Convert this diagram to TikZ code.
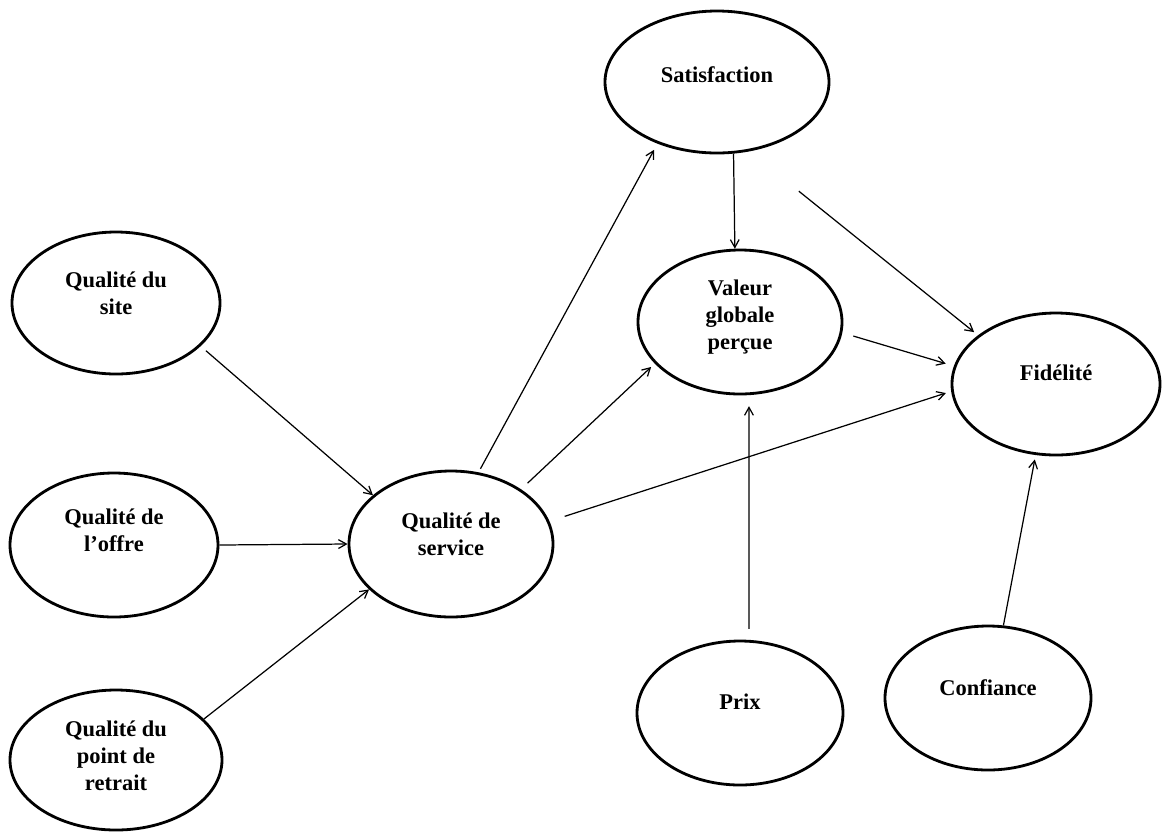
\documentclass[tikz,border=0pt]{standalone}
\usepackage{fontspec}
\setmainfont{Liberation Serif}
\usetikzlibrary{shapes.geometric,arrows.meta}
\begin{document}
\begin{tikzpicture}[x=0.02cm,y=-0.02cm,
  ov/.style 2 args={ellipse,draw,line width=1.6pt,inner sep=0pt,
    minimum width=#1*0.02cm,minimum height=#2*0.02cm},
  txt/.style={align=center,inner sep=0pt,
    font=\fontsize{12.8pt}{15.4pt}\selectfont\bfseries},
  arr/.style={draw,line width=0.7pt,-{Straight Barb[length=4.5pt,width=5pt]}}]
\useasboundingbox[fill=white] (0,0) rectangle (1170,833);
% ellipses
\node[ov={208}{142}] (site)    at (116,303) {};
\node[ov={208}{144}] (offre)   at (114,545) {};
\node[ov={212}{140}] (retrait) at (116,760) {};
\node[ov={204}{146}] (service) at (451,544) {};
\node[ov={224}{142}] (sat)     at (717,82)  {};
\node[ov={204}{144}] (valeur)  at (740,322) {};
\node[ov={208}{142}] (fid)     at (1056,384) {};
\node[ov={206}{144}] (prix)    at (740,713) {};
\node[ov={206}{144}] (conf)    at (988,698) {};
% texts
\node[txt] (siteT)    at (116,293) {Qualité du\\site};
\node[txt] (offreT)   at (114,530) {Qualité de\\l’offre};
\node[txt] (retraitT) at (116,756) {Qualité du\\point de\\retrait};
\node[txt] (serviceT) at (451,534) {Qualité de\\service};
\node[txt] (satT)     at (717,75)  {Satisfaction};
\node[txt] (valeurT)  at (740,317) {Valeur\\globale\\perçue};
\node[txt] (fidT)     at (1056,373) {Fidélité};
\node[txt] (prixT)    at (740,702) {Prix};
\node[txt] (confT)    at (988,688) {Confiance};
% connectors
\draw[arr,shorten <=0.14cm] (site.-27) -- (service.148);
\draw[arr] (offre.east) -- (service.west);
\draw[arr] (retrait.25) -- (service.209);
\draw[arr,shorten <=0.08cm,shorten >=0.14cm] (service.69) -- (sat.226);
\draw[arr,shorten <=0.18cm,shorten >=0.1cm] (service.38) -- (valeur.206);
\draw[arr,shorten <=0.32cm,shorten >=0.11cm] (service.13) -- (fid.184);
\draw[arr] (sat.-77) -- (valeur.94);
\draw[arr,shorten <=1.27cm,shorten >=0.1cm] (sat.-65) -- (fid.148);
\draw[arr,shorten <=0.23cm,shorten >=0.17cm] (valeur.-6) -- (fid.170);
\draw[arr,shorten <=0.22cm,shorten >=0.22cm] (prix.83) -- (valeur.-83);
\draw[arr,shorten >=0.09cm] (conf.78) -- (fid.254);
\end{tikzpicture}
\end{document}
